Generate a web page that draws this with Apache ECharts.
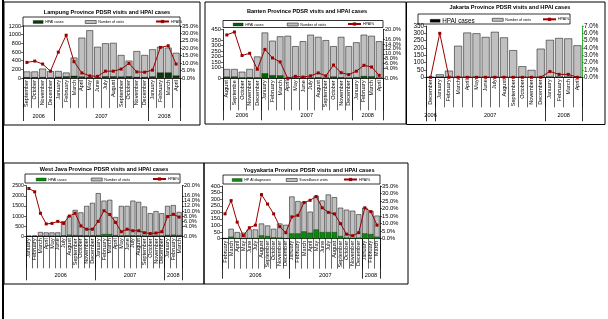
<!DOCTYPE html>
<html><head><meta charset="utf-8">
<script src="https://cdn.jsdelivr.net/npm/echarts@6/dist/echarts.min.js"></script>
<style>html,body{margin:0;padding:0;background:#fff}#c{width:608px;height:319px}</style>
</head><body><div id="c"></div>
<script>
// ---------------- DATA ----------------
const years = ['2006', '2007', '2008'];

const lampungMonths = ['September','October','November','December','January','February','March','April','May','June','July','August','September','October','November','December','January','February','March','April'];
const lampungYearCounts = [4, 12, 4];
const lampungVisits = [150,150,215,160,160,125,470,930,1100,720,800,810,530,400,620,530,660,720,700,580];
const lampungCases = [16,17,20,7,28,36,50,32,15,8,37,37,32,39,25,21,35,125,125,55];
const lampungPct = [10.5,11.4,9.4,4.6,17.4,28.8,11.0,3.4,1.4,1.1,4.6,4.6,6.0,9.8,4.1,3.9,5.3,20.6,21.7,9.4];

const bantenMonths = ['August','Septembe','October','November','December','January','February','March','April','May','June','July','August','September','October','November','December','January','February','March','April'];
const bantenYearCounts = [5, 12, 4];
const bantenVisits = [85,85,60,85,200,420,345,385,390,295,340,400,380,350,295,380,295,330,400,390,340];
const bantenCases = [15,16,6,9,7,45,28,26,0,2,2,4,8,4,16,9,4,10,21,18,4];
const bantenPct = [17.7,18.9,9.3,10.2,3.7,11.8,8.3,6.7,0,0.8,0.5,1.0,2.2,1.0,5.4,2.3,1.5,2.9,5.3,4.6,1.2];

const jakartaMonths = ['December','January','February','March','April','May','June','July','August','September','October','November','December','January','February','March','April'];
const jakartaYearCounts = [1, 12, 4];
const jakartaVisits = [0,20,45,215,305,300,275,310,272,185,75,50,195,255,268,265,218];
const jakartaCases = [0,1,0,0,0,0,0,0,0,0,0,0,0,2,1,1,0];
const jakartaPct = [0,6.0,0,0,0,0,0,0,0,0,0,0,0,0.8,0.4,0.4,0];

const westJavaMonths = ['January','February','March','April','May','June','July','August','September','October','November','December','January','February','March','April','May','June','July','August','September','October','November','December','January','February','March'];
const westJavaYearCounts = [12, 12, 3];
const westJavaVisits = [10,30,210,190,190,190,750,1000,1300,1180,1500,1650,2130,1760,1800,950,1500,1500,1760,1700,1470,1140,1240,1140,1500,1540,1200];
const westJavaCases = [2,5,19,9,10,11,39,80,60,47,41,45,60,110,110,53,27,41,39,37,21,13,16,19,70,80,60];
const westJavaPct = [18.9,17.6,9.1,4.9,5.1,5.9,5.1,8.0,9.1,4.1,2.8,2.8,5.9,10.1,8.6,5.5,1.8,2.8,2.2,2.2,1.4,1.1,1.3,1.8,7.8,8.7,7.6];

const yogyaMonths = ['February','March','April','May','June','July','August','September','October','November','December','January','February','March','April','May','June','July','August','September','October','November','December','January','February','March'];
const yogyaYearCounts = [11, 12, 3];
const yogyaVisits = [5,75,50,45,70,70,115,100,75,115,105,320,285,280,205,325,290,335,315,235,220,212,185,235,210,175];
const yogyaCases = [1,15,5,1,5,6,25,20,10,8,3,40,40,55,45,70,50,50,50,20,8,5,8,40,35,15];
const yogyaPct = [16.5,25.3,11.0,2.0,7.3,9.0,29.3,23.0,16.5,8.0,4.0,14.5,15.5,24.0,25.5,28.0,20.5,17.5,16.5,10.0,3.0,2.0,4.0,20.5,18.0,9.0];

// ---------------- LAYOUT ----------------
const FONT = '"Liberation Sans", Arial, sans-serif';
const panels = [
  { title: 'Lampung Province PDSR visits and HPAI cases', titleX: 107, titleY: 9,
    months: lampungMonths, yc: lampungYearCounts, visits: lampungVisits, cases: lampungCases, pct: lampungPct,
    g: [23, 26, 157, 52], lMax: 1200, lInt: 200, rMax: 35, rInt: 5, lFont: 5.5, rFont: 5.8,
    mTick: 30, yTick: 43, yMargin: 35, caseColor: '#0a3a0a',
    caseName: 'HPAI cases', visitName: 'Number of visits',
    leg: [33, 85, 155], legY: 21.5, legBox: [23, 17, 157, 9], legFont: 3.6, caseLegFont: 3.6 },
  { title: 'Banten Province PDSR visits and HPAI cases', titleX: 307, titleY: 8,
    months: bantenMonths, yc: bantenYearCounts, visits: bantenVisits, cases: bantenCases, pct: bantenPct,
    g: [223, 29.3, 160, 49], lMax: 450, lInt: 50, rMax: 20, rInt: 2, lFont: 5.8, rFont: 5.6,
    mTick: 32, yTick: 42, yMargin: 34, caseColor: '#006400',
    caseName: 'HPAI cases', visitName: 'Number of visits',
    leg: [233, 287, 347], legY: 24, legBox: [223, 20.5, 160, 7], legFont: 3.6, caseLegFont: 3.6 },
  { title: 'Jakarta Province PDSR visits and HPAI cases', titleX: 510, titleY: 4.5,
    months: jakartaMonths, yc: jakartaYearCounts, visits: jakartaVisits, cases: jakartaCases, pct: jakartaPct,
    g: [426, 26, 156, 51.3], lMax: 350, lInt: 50, rMax: 7, rInt: 1, lFont: 6.3, rFont: 6.3,
    mTick: 30, yTick: 44, yMargin: 35, caseColor: '#000', rAxisColor: '#00a000',
    caseName: 'HPAI cases', visitName: 'Number of visits',
    leg: [430, 492, 542], legY: 19.3, legBox: [418, 14, 152, 10], legFont: 3.6, caseLegFont: 6.3 },
  { title: 'West Java Province PDSR visits and HPAI cases', titleX: 104, titleY: 166.5,
    months: westJavaMonths, yc: westJavaYearCounts, visits: westJavaVisits, cases: westJavaCases, pct: westJavaPct,
    g: [26, 185.7, 156, 50.6], lMax: 2500, lInt: 500, rMax: 20, rInt: 2, lFont: 5.3, rFont: 5.6,
    mTick: 32, yTick: 44, yMargin: 36, caseColor: '#0a8a0a',
    caseName: 'HPAI cases', visitName: 'Number of visits',
    leg: [36, 91, 152], legY: 179, legBox: [25, 174, 155, 9], legFont: 3.6, caseLegFont: 3.6 },
  { title: 'Yogyakarta Province PDSR visits and HPAI cases', titleX: 309, titleY: 167.3,
    months: yogyaMonths, yc: yogyaYearCounts, visits: yogyaVisits, cases: yogyaCases, pct: yogyaPct,
    g: [222, 186, 158, 52.7], lMax: 400, lInt: 50, rMax: 35, rInt: 5, lFont: 5.6, rFont: 5.8,
    mTick: 30, yTick: 40, yMargin: 34, caseColor: '#0a8a0a',
    caseName: 'HP AI diagnoses', visitName: 'Surveillance visits',
    leg: [232, 286, 343], legY: 179.5, legBox: [223, 175, 157, 9], legFont: 3.6, caseLegFont: 3.6 }
];

const opt = { animation: false, backgroundColor: '#fff', title: [], legend: [], grid: [], xAxis: [], yAxis: [], series: [], graphic: [] };
const LINE = '#990000';

panels.forEach((p, gi) => {
  const n = p.months.length;
  const bounds = [0];
  let acc = 0;
  p.yc.forEach(c => { acc += c; bounds.push(acc); });
  const centers = bounds.slice(0, -1).map((b, i) => (b + bounds[i + 1]) / 2);

  opt.title.push({ text: p.title, left: p.titleX, top: p.titleY, textAlign: 'center', padding: 0,
    textStyle: { fontSize: 5.6, fontWeight: 'bold', color: '#000', fontFamily: FONT } });

  opt.grid.push({ left: p.g[0], top: p.g[1], width: p.g[2], height: p.g[3], containLabel: false });
  const xm = opt.xAxis.length;
  opt.xAxis.push({ type: 'category', gridIndex: gi, data: p.months, boundaryGap: true,
    axisLine: { lineStyle: { color: '#000', width: 0.8 } },
    axisTick: { show: true, interval: 0, length: p.mTick, lineStyle: { color: '#000', width: 0.6 } },
    axisLabel: { interval: 0, rotate: 90, fontSize: 5.5, margin: 2, color: '#000', fontFamily: FONT, hideOverlap: false } });
  opt.xAxis.push({ type: 'value', gridIndex: gi, min: 0, max: n, position: 'bottom',
    axisLine: { show: false }, splitLine: { show: false },
    axisTick: { show: true, customValues: bounds, length: p.yTick, lineStyle: { color: '#000', width: 0.8 } },
    axisLabel: { customValues: centers, margin: p.yMargin, fontSize: 5.6, color: '#000', fontFamily: FONT,
      formatter: v => { let k = 0; centers.forEach((c, i) => { if (Math.abs(c - v) < Math.abs(centers[k] - v)) k = i; }); return years[k]; } } });

  const yl = opt.yAxis.length;
  opt.yAxis.push({ type: 'value', gridIndex: gi, min: 0, max: p.lMax, interval: p.lInt, position: 'left',
    axisLine: { show: true, lineStyle: { color: '#000', width: 0.8 } },
    axisTick: { show: true, length: 2, lineStyle: { color: '#000', width: 0.6 } },
    splitLine: { show: false },
    axisLabel: { fontSize: p.lFont, margin: 2, color: '#000', fontFamily: FONT, showMinLabel: true, showMaxLabel: true, hideOverlap: false,
      formatter: v => String(v) } });
  opt.yAxis.push({ type: 'value', gridIndex: gi, min: 0, max: p.rMax, interval: p.rInt, position: 'right',
    axisLine: { show: true, lineStyle: { color: p.rAxisColor || '#000', width: 0.8 } },
    axisTick: { show: true, length: 2, lineStyle: { color: p.rAxisColor || '#000', width: 0.6 } },
    splitLine: { show: false },
    axisLabel: { fontSize: p.rFont, margin: 2, color: '#000', fontFamily: FONT, showMinLabel: true, showMaxLabel: true, hideOverlap: false,
      formatter: v => v.toFixed(1) + '%' } });

  opt.series.push({ type: 'bar', name: p.visitName, xAxisIndex: xm, yAxisIndex: yl, data: p.visits,
    barCategoryGap: '14%', barGap: '-100%', itemStyle: { color: '#c0c0c0', borderColor: '#000', borderWidth: 0.5 } });
  opt.series.push({ type: 'bar', name: p.caseName, xAxisIndex: xm, yAxisIndex: yl, data: p.cases,
    barCategoryGap: '14%', barGap: '-100%', itemStyle: { color: p.caseColor, borderColor: '#000', borderWidth: 0.3 } });
  opt.series.push({ type: 'line', name: 'HPAI%', xAxisIndex: xm, yAxisIndex: yl + 1, data: p.pct,
    symbol: 'rect', symbolSize: 3, lineStyle: { color: LINE, width: 1 }, itemStyle: { color: LINE }, z: 5 });

  // legends
  opt.legend.push({ left: p.leg[0], top: p.legY - 1.5, padding: 0, selectedMode: false, itemWidth: 10, itemHeight: 3, icon: 'rect',
    data: [{ name: p.caseName, itemStyle: { color: p.caseColor, borderColor: '#000', borderWidth: 0.3 } }],
    textStyle: { fontSize: p.caseLegFont, color: '#000', fontFamily: FONT, padding: [0, 0, 0, -3] } });
  opt.legend.push({ left: p.leg[1], top: p.legY - 1.5, padding: 0, selectedMode: false, itemWidth: 11, itemHeight: 3, icon: 'rect',
    data: [{ name: p.visitName, itemStyle: { color: '#c0c0c0', borderColor: '#000', borderWidth: 0.5 } }],
    textStyle: { fontSize: p.legFont, color: '#000', fontFamily: FONT, padding: [0, 0, 0, -3] } });
  opt.legend.push({ left: p.leg[2], top: p.legY - 2, padding: 0, selectedMode: false, itemWidth: 13, itemHeight: 4,
    data: [{ name: 'HPAI%', itemStyle: { color: LINE } }],
    textStyle: { fontSize: p.legFont, color: '#000', fontFamily: FONT, padding: [0, 0, 0, -3] } });

  opt.graphic.push({ type: 'rect', shape: { x: p.legBox[0], y: p.legBox[1], width: p.legBox[2], height: p.legBox[3] },
    style: { fill: 'none', stroke: '#000', lineWidth: 0.8 }, silent: true });
});

// panel frames
const frames = [[4, 2, 196, 123], [205, 2, 201, 122], [406.5, 2, 198.5, 122.5], [4, 163, 200, 121], [204, 163, 204, 121]];
frames.forEach(f => opt.graphic.push({ type: 'rect', shape: { x: f[0], y: f[1], width: f[2], height: f[3] },
  style: { fill: 'none', stroke: '#000', lineWidth: 1 }, silent: true }));
opt.graphic.push({ type: 'line', shape: { x1: 3, y1: 0, x2: 3, y2: 319 }, style: { stroke: '#000', lineWidth: 2 }, silent: true });

const chart = echarts.init(document.getElementById('c'));
chart.setOption(opt);
</script></body></html>
